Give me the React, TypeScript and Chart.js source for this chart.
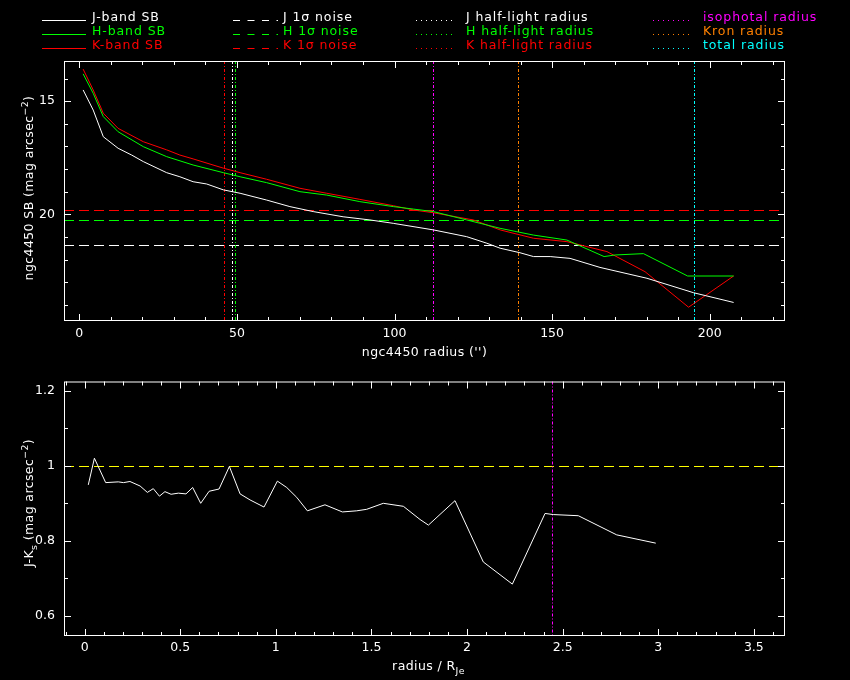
import { useEffect, useRef } from 'react'
import { Chart, registerables } from 'chart.js'
import type { Plugin } from 'chart.js'

Chart.register(...registerables)

const FONT = 'DejaVu Sans'
const FS = 12.5

// surface brightness profiles: radius ('') and SB (mag arcsec^-2)
const jRadius = [1.2, 4.4, 7.6, 12.3, 16.6, 20.3, 27.7, 31.9, 36.1, 40.4, 45.7, 51, 59.4, 66.8, 74.2, 83.7, 92.2, 99.6, 112.3, 122.9, 129.3, 133.5, 139.8, 144.1, 149.4, 155.7, 165.2, 180.1, 194.9, 207.6]
const jSB = [14.5, 15.39, 16.57, 17.08, 17.38, 17.67, 18.16, 18.34, 18.56, 18.66, 18.92, 19.07, 19.37, 19.66, 19.88, 20.11, 20.25, 20.4, 20.69, 20.99, 21.28, 21.5, 21.7, 21.87, 21.87, 21.95, 22.35, 22.83, 23.47, 23.9]
const hRadius = [1.2, 4.4, 7.6, 12.3, 20.3, 27.7, 36.1, 45.7, 51, 59.4, 70, 78.5, 89, 99.6, 106, 112.3, 122.9, 133.5, 144.1, 154.7, 166.5, 170, 179, 193, 207.6]
const hSB = [13.79, 14.65, 15.68, 16.35, 17.01, 17.45, 17.82, 18.16, 18.34, 18.6, 19.0, 19.15, 19.44, 19.66, 19.77, 19.88, 20.25, 20.62, 20.92, 21.14, 21.87, 21.8, 21.74, 22.73, 22.73]
const kRadius = [1.2, 4.4, 7.6, 12.3, 20.3, 27.7, 31.9, 36.1, 45.7, 51, 59.4, 70, 78.5, 89, 99.6, 106, 112.3, 125, 133.5, 144.1, 154.7, 167.4, 179.5, 193.3, 207.6]
const kSB = [13.58, 14.5, 15.53, 16.2, 16.79, 17.15, 17.38, 17.55, 17.96, 18.16, 18.45, 18.85, 19.07, 19.34, 19.62, 19.81, 19.93, 20.25, 20.69, 21.06, 21.21, 21.65, 22.54, 24.11, 22.73]

// 1 sigma noise levels (J, H, K)
const noiseLevels = [21.36, 20.27, 19.82]

// characteristic radii ('')
const radiusLabels = ['J half-light radius', 'H half-light radius', 'K half-light radius', 'isophotal radius', 'Kron radius', 'total radius']
const radiusValues = [48.5, 49.5, 46.0, 112.3, 139.3, 194.9]

// J-Ks colour profile against radius / R_Je
const colourRadius = [0.019, 0.051, 0.11, 0.176, 0.203, 0.237, 0.29, 0.328, 0.359, 0.391, 0.42, 0.452, 0.49, 0.53, 0.565, 0.607, 0.651, 0.703, 0.757, 0.813, 0.865, 0.938, 1.008, 1.057, 1.109, 1.165, 1.257, 1.348, 1.423, 1.475, 1.562, 1.667, 1.754, 1.798, 1.937, 2.085, 2.237, 2.408, 2.451, 2.582, 2.783, 2.987]
const colourJK = [0.949, 1.02, 0.955, 0.957, 0.955, 0.958, 0.946, 0.929, 0.939, 0.919, 0.931, 0.924, 0.927, 0.925, 0.942, 0.9, 0.932, 0.938, 0.998, 0.925, 0.909, 0.89, 0.959, 0.942, 0.916, 0.88, 0.896, 0.877, 0.88, 0.884, 0.9, 0.892, 0.857, 0.842, 0.907, 0.744, 0.685, 0.873, 0.87, 0.867, 0.816, 0.794]
const colourRef = 1.0
const colourMark = 2.443

const sbXTicks = [0, 50, 100, 150, 200]
const sbYTicks = [15, 20]
const jkXTicks = [0, 0.5, 1, 1.5, 2, 2.5, 3, 3.5]
const jkYTicks = [0.6, 0.8, 1, 1.2]

const BAND = ['#ffffff', '#00ff00', '#ff0000']
const RADIUS_COL = ['#ffffff', '#00ff00', '#ff0000', '#ff00ff', '#ff8000', '#00ffff']

type Part = { t: string; s?: 1 | -1 }

function rich(ctx: CanvasRenderingContext2D, parts: Part[], x: number, y: number, rot = 0) {
    const font = (p: Part) => `${p.s ? FS * 0.75 : FS}px "${FONT}"`
    ctx.save()
    ctx.translate(x, y)
    ctx.rotate(rot)
    ctx.fillStyle = '#fff'
    ctx.textAlign = 'left'
    ctx.textBaseline = 'alphabetic'
    ;(ctx as any).letterSpacing = '0.4px'
    let w = 0
    parts.forEach(p => { ctx.font = font(p); w += ctx.measureText(p.t).width })
    let cx = -w / 2
    parts.forEach(p => {
        ctx.font = font(p)
        ctx.fillText(p.t, cx, p.s === 1 ? -5 : p.s === -1 ? 4 : 0)
        cx += ctx.measureText(p.t).width
    })
    ctx.restore()
}

function steps(min: number, max: number, step: number) {
    const out: number[] = []
    for (let i = Math.ceil(min / step - 1e-9); i * step <= max + 1e-9; i++) out.push(+(i * step).toFixed(6))
    return out
}

type FrameOpts = {
    xStep: number; yStep: number
    xMajor: number[]; yMajor: number[]
    hLines: { v: number; c: string }[]
    vLines: { v: number; c: string }[]
    decorate: (ctx: CanvasRenderingContext2D, chart: Chart) => void
}

function framePlugin(o: FrameOpts): Plugin<'line'> {
    return {
        id: 'frame',
        beforeDatasetsDraw(chart) {
            const { ctx, chartArea: a, scales } = chart
            ctx.save()
            ctx.lineWidth = 1
            o.hLines.forEach(l => {
                const py = Math.round(scales.y.getPixelForValue(l.v)) + 0.5
                ctx.strokeStyle = l.c
                ctx.setLineDash([10, 5])
                ctx.beginPath(); ctx.moveTo(a.left, py); ctx.lineTo(a.right, py); ctx.stroke()
            })
            o.vLines.forEach(l => {
                const px = Math.round(scales.x.getPixelForValue(l.v)) + 0.5
                ctx.strokeStyle = l.c
                ctx.setLineDash([3, 2, 1, 2])
                ctx.beginPath(); ctx.moveTo(px, a.top); ctx.lineTo(px, a.bottom); ctx.stroke()
            })
            ctx.restore()
        },
        afterDraw(chart) {
            const { ctx, chartArea: a, scales } = chart
            const major = (v: number, list: number[]) => list.some(m => Math.abs(m - v) < 1e-6)
            ctx.save()
            ctx.strokeStyle = '#fff'
            ctx.lineWidth = 1
            ctx.setLineDash([])
            ctx.strokeRect(a.left + 0.5, a.top + 0.5, a.width - 1, a.height - 1)
            ctx.beginPath()
            steps(scales.x.min, scales.x.max, o.xStep).forEach(v => {
                const len = major(v, o.xMajor) ? 7 : 4
                const px = Math.round(scales.x.getPixelForValue(v)) + 0.5
                ctx.moveTo(px, a.bottom); ctx.lineTo(px, a.bottom - len)
                ctx.moveTo(px, a.top); ctx.lineTo(px, a.top + len)
            })
            steps(scales.y.min, scales.y.max, o.yStep).forEach(v => {
                const len = major(v, o.yMajor) ? 7 : 4
                const py = Math.round(scales.y.getPixelForValue(v)) + 0.5
                ctx.moveTo(a.left, py); ctx.lineTo(a.left + len, py)
                ctx.moveTo(a.right, py); ctx.lineTo(a.right - len, py)
            })
            ctx.stroke()
            o.decorate(ctx, chart)
            ctx.restore()
        },
    }
}

function drawLegend(ctx: CanvasRenderingContext2D) {
    const rowsLine = [20.5, 34.5, 48.5]
    const rowsText = [21, 35, 49]
    const cols = [
        { x0: 42, x1: 86, tx: 92, dash: [] as number[], items: ['J-band SB', 'H-band SB', 'K-band SB'], cols: BAND },
        { x0: 233, x1: 278, tx: 283, dash: [7, 7.5], items: ['J 1σ noise', 'H 1σ noise', 'K 1σ noise'], cols: BAND },
        { x0: 416, x1: 455, tx: 466, dash: [1, 4], items: radiusLabels.slice(0, 3), cols: RADIUS_COL.slice(0, 3) },
        { x0: 653, x1: 693, tx: 703, dash: [1, 4], items: radiusLabels.slice(3), cols: RADIUS_COL.slice(3) },
    ]
    ctx.save()
    ctx.font = `${FS}px "${FONT}"`
    ;(ctx as any).letterSpacing = '0.9px'
    ctx.textAlign = 'left'
    ctx.textBaseline = 'alphabetic'
    ctx.lineWidth = 1
    cols.forEach(c => c.items.forEach((label, i) => {
        ctx.strokeStyle = c.cols[i]
        ctx.fillStyle = c.cols[i]
        ctx.setLineDash(c.dash)
        ctx.beginPath(); ctx.moveTo(c.x0, rowsLine[i]); ctx.lineTo(c.x1, rowsLine[i]); ctx.stroke()
        ctx.fillText(label, c.tx, rowsText[i])
    }))
    ctx.restore()
}

const tickFont = { family: FONT, size: FS }

function axis(min: number, max: number, ticks: number[], pad: number, size: number, horizontal: boolean, reverse = false) {
    return {
        type: 'linear' as const,
        min, max, reverse,
        grid: { display: false, drawTicks: false },
        border: { display: false },
        afterFit: (s: any) => { if (horizontal) s.height = size; else s.width = size },
        afterBuildTicks: (s: any) => { s.ticks = ticks.map(value => ({ value })) },
        ticks: { color: '#fff', font: tickFont, padding: pad, autoSkip: false, maxRotation: 0, callback: (v: any) => String(v) },
    }
}

function line(xs: number[], ys: number[], color: string) {
    return {
        data: xs.map((x, i) => ({ x, y: ys[i] })),
        borderColor: color,
        borderWidth: 1,
        pointRadius: 0,
        tension: 0,
    }
}

export default function App() {
    const topRef = useRef<HTMLCanvasElement>(null)
    const botRef = useRef<HTMLCanvasElement>(null)

    useEffect(() => {
        if (!topRef.current || !botRef.current) return

        const sb = new Chart(topRef.current, {
            type: 'line',
            data: {
                datasets: [
                    line(jRadius, jSB, BAND[0]),
                    line(hRadius, hSB, BAND[1]),
                    line(kRadius, kSB, BAND[2]),
                ],
            },
            options: {
                animation: false,
                responsive: false,
                layout: { padding: { top: 61, right: 65, left: 0, bottom: 0 } },
                plugins: { legend: { display: false }, tooltip: { enabled: false } },
                scales: {
                    x: axis(-4.87, 223.9, sbXTicks, 5, 44, true),
                    y: axis(13.22, 24.72, sbYTicks, 9, 64, false, true),
                },
            },
            plugins: [framePlugin({
                xStep: 10, yStep: 1, xMajor: sbXTicks, yMajor: sbYTicks,
                hLines: noiseLevels.map((v, i) => ({ v, c: BAND[i] })),
                vLines: radiusValues.map((v, i) => ({ v, c: RADIUS_COL[i] })),
                decorate: (ctx, chart) => {
                    const a = chart.chartArea
                    drawLegend(ctx)
                    rich(ctx, [{ t: "ngc4450 radius ('')" }], (a.left + a.right) / 2, 356)
                    rich(ctx, [{ t: 'ngc4450 SB (mag arcsec' }, { t: '−2', s: 1 }, { t: ')' }], 33, 188, -Math.PI / 2)
                },
            })],
        })

        const jk = new Chart(botRef.current, {
            type: 'line',
            data: { datasets: [line(colourRadius, colourJK, '#ffffff')] },
            options: {
                animation: false,
                responsive: false,
                layout: { padding: { top: 11, right: 65, left: 0, bottom: 0 } },
                plugins: { legend: { display: false }, tooltip: { enabled: false } },
                scales: {
                    x: axis(-0.108, 3.663, jkXTicks, 4.5, 44, true),
                    y: axis(0.547, 1.224, jkYTicks, 9, 64, false),
                },
            },
            plugins: [framePlugin({
                xStep: 0.1, yStep: 0.1, xMajor: jkXTicks, yMajor: jkYTicks,
                hLines: [{ v: colourRef, c: '#ffff00' }],
                vLines: [{ v: colourMark, c: '#ff00ff' }],
                decorate: (ctx, chart) => {
                    const a = chart.chartArea
                    rich(ctx, [{ t: 'radius / R' }, { t: 'Je', s: -1 }], (a.left + a.right) / 2 + 4, 305)
                    rich(ctx, [{ t: 'J-K' }, { t: 's', s: -1 }, { t: ' (mag arcsec' }, { t: '−2', s: 1 }, { t: ')' }], 33, 138, -Math.PI / 2)
                },
            })],
        })

        return () => { sb.destroy(); jk.destroy() }
    }, [])

    return (
        <div style={{ position: 'fixed', left: 0, top: 0, width: 850, height: 680, background: '#000' }}>
            <canvas ref={topRef} width={850} height={365} style={{ position: 'absolute', left: 0, top: 0 }} />
            <canvas ref={botRef} width={850} height={315} style={{ position: 'absolute', left: 0, top: 365 }} />
        </div>
    )
}
